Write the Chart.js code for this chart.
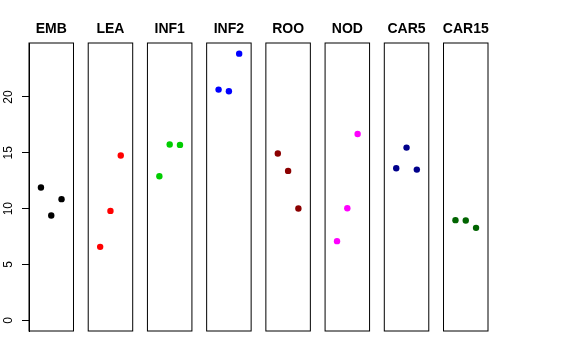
<!DOCTYPE html>
<html><head><meta charset="utf-8">
<script src="https://cdn.jsdelivr.net/npm/chart.js@4/dist/chart.umd.min.js"></script>
<style>html,body{margin:0;padding:0;background:#fff}#wrap{width:576px;height:360px}</style>
</head><body><div id="wrap"><canvas id="c" width="576" height="360"></canvas></div>
<script>
const categories = ['EMB','LEA','INF1','INF2','ROO','NOD','CAR5','CAR15'];
const valEMB   = [11.90, 9.39, 10.85];
const valLEA   = [6.58, 9.80, 14.76];
const valINF1  = [12.90, 15.74, 15.71];
const valINF2  = [20.66, 20.51, 23.88];
const valROO   = [14.94, 13.38, 10.02];
const valNOD   = [7.09, 10.04, 16.69];
const valCAR5  = [13.62, 15.47, 13.50];
const valCAR15 = [8.97, 8.94, 8.28];
const seriesValues = [valEMB, valLEA, valINF1, valINF2, valROO, valNOD, valCAR5, valCAR15];
const colors = ['#000000','#FF0000','#00CD00','#0000FF','#8B0000','#FF00FF','#00008B','#006400'];
const yTicks = [0, 5, 10, 15, 20];

// layout of panels in x units
const P = 5.75;      // panel pitch
const XLO = -0.16, XHI = 4.16; // panel extent around positions 1..3

const datasets = seriesValues.map((vals, i) => ({
  label: categories[i],
  data: vals.map((v, j) => ({x: i * P + j + 1, y: v})),
  backgroundColor: colors[i],
  borderColor: colors[i],
  borderWidth: 0,
  pointRadius: 3.2,
  pointHoverRadius: 3.2
}));

const panelBoxes = {
  id: 'panelBoxes',
  afterDatasetsDraw(chart) {
    const ctx = chart.ctx, xs = chart.scales.x, ca = chart.chartArea;
    ctx.save();
    ctx.strokeStyle = '#000';
    ctx.lineWidth = 1;
    categories.forEach((c, i) => {
      const l = xs.getPixelForValue(i * P + XLO);
      const r = xs.getPixelForValue(i * P + XHI);
      ctx.strokeRect(l, ca.top, r - l, ca.bottom - ca.top);
    });
    ctx.restore();
  }
};

new Chart(document.getElementById('c'), {
  type: 'scatter',
  data: { datasets },
  options: {
    responsive: false,
    devicePixelRatio: 1,
    animation: false,
    layout: { padding: { left: 0, right: 88, top: 0, bottom: 29 } },
    plugins: { legend: { display: false }, tooltip: { enabled: false } },
    scales: {
      x: { type: 'linear', min: XLO, max: 7 * P + XHI, display: false },
      xTop: {
        type: 'linear', position: 'top', min: XLO, max: 7 * P + XHI,
        grid: { display: false, drawTicks: false },
        border: { display: false },
        afterBuildTicks: s => { s.ticks = categories.map((c, i) => ({ value: i * P + 2 })); },
        afterFit: s => { s.height = 43; },
        ticks: {
          autoSkip: false, maxRotation: 0, minRotation: 0, padding: 5, color: '#000',
          font: { family: 'Liberation Sans', size: 14, weight: 'bold' },
          callback: (v, idx) => categories[idx]
        }
      },
      y: {
        type: 'linear', min: -0.955, max: 24.835,
        afterBuildTicks: s => { s.ticks = yTicks.map(v => ({ value: v })); },
        afterFit: s => { s.width = 29; },
        grid: { display: true, drawOnChartArea: false, drawTicks: true, tickLength: 7, color: '#000', lineWidth: 1 },
        border: { display: true, color: '#000', width: 1 },
        ticks: {
          minRotation: 90, maxRotation: 90, crossAlign: 'center', padding: 7, color: '#000',
          font: { family: 'Liberation Sans', size: 12 },
          callback: v => String(v)
        }
      }
    }
  },
  plugins: [panelBoxes]
});
</script>
</body></html>
